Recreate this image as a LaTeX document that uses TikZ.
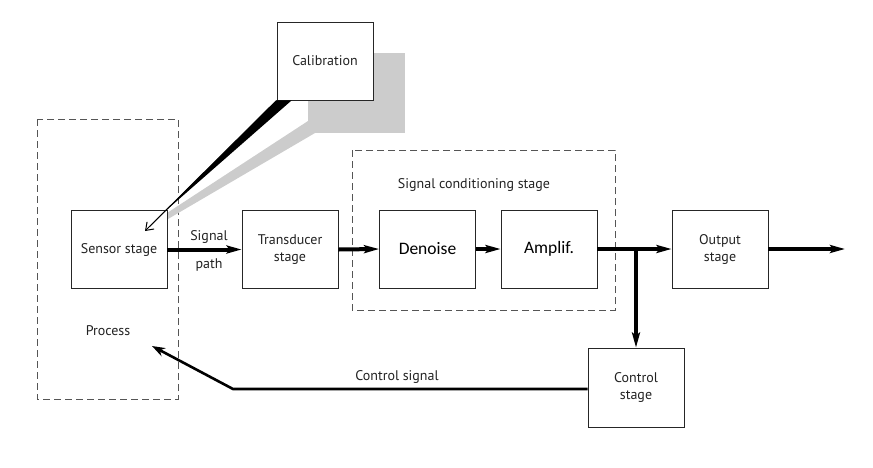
\documentclass[tikz,border=0pt]{standalone}
\usepackage{fontspec}
\setmainfont{PT Sans}
\newfontfamily\carl{Carlito}
\usetikzlibrary{arrows.meta}
\definecolor{txt}{HTML}{222222}
\definecolor{dashgray}{HTML}{555555}
\definecolor{calgray}{HTML}{CCCCCC}
\begin{document}
\begin{tikzpicture}[x=1pt,y=-1pt,
  blk/.style={draw=black!85,line width=0.9pt,fill=white,minimum width=96pt,minimum height=78pt,inner sep=0pt,align=center,font=\fontsize{14}{17}\selectfont,text=txt},
  big/.style={font=\carl\fontsize{17.5}{20}\selectfont,text=black},
  grp/.style={draw=dashgray,line width=0.9pt,dash pattern=on 7pt off 4pt},
  lbl/.style={font=\fontsize{14}{17}\selectfont,text=txt,inner sep=0pt},
  sig/.style={line width=4pt,-{Stealth[length=15pt,width=8pt,inset=3pt]}},
  ctl/.style={line width=2.6pt,-{Stealth[length=13pt,width=9pt,inset=4pt]}}]
\useasboundingbox (0,0) rectangle (873,467);
% dashed groups
\draw[grp] (37,119) rectangle (178,399);
\draw[grp] (352,150) rectangle (615,310);
\node[lbl] (proc) at (108,331) {Process};
\node[lbl] (scl) at (474,185) {Signal conditioning stage};
% calibration shadow
\fill[calgray] (308,53) rectangle (405,133);
\fill[calgray] (308,121) -- (315,133) -- (168,219) -- (167,213) -- cycle;
% blocks
\node[blk] (cal) at (325,61) {Calibration};
\node[blk] (sen) at (119,249.5) {Sensor stage};
\node[blk] (tra) at (290,249.5) {Transducer\\stage};
\node[blk,big] (den) at (427.5,249) {Denoise};
\node[blk,big] (amp) at (549,249) {Amplif.};
\node[blk] (out) at (720,249) {Output\\stage};
\node[blk,minimum height=79pt] (ctl) at (636,387.5) {Control\\stage};
% calibration arrow
\fill[black] (cal.south west) -- ++(15,0) -- (162,214) -- cycle;
\coordinate (calt) at (145,231);
\draw[line width=1pt,-{Straight Barb[length=7pt,width=10pt]}] (cal.south west) -- (calt);
% signal path
\draw[sig] (sen.east) -- (tra.west);
\node[lbl] (sg) at (209,237) {Signal};
\node[lbl] (pa) at (209,265) {path};
\draw[sig] (tra.east) -- (den.west);
\draw[sig] (den.east) -- (amp.west);
\draw[sig] (amp.east) -- (out.west);
\coordinate (br) at (636,249);
\draw[sig] (br) -- (ctl.north);
\coordinate (end) at (845,249);
\draw[sig] (out.east) -- (end);
% control signal
\coordinate (bend) at (233,389);
\coordinate (pt) at (152,346);
\draw[ctl] (ctl.west |- bend) -- (bend) -- (pt);
\node[lbl] (cs) at (397,377) {Control signal};
\end{tikzpicture}
\end{document}
